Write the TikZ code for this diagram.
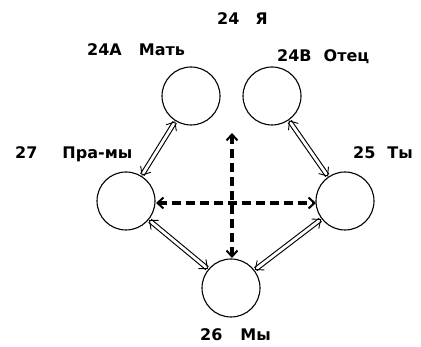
\documentclass[tikz,border=0pt]{standalone}
\usepackage{fontspec}
\setmainfont{DejaVu Sans}
\usetikzlibrary{arrows.meta}
\begin{document}
\begin{tikzpicture}[x=1pt,y=-1pt,
  circ/.style={circle,draw,line width=1.1pt,minimum size=58pt,inner sep=0pt},
  lbl/.style={anchor=base west,inner sep=0pt,font=\fontsize{16pt}{16pt}\selectfont\bfseries},
  dbl/.style={draw,double,double distance=2.8pt,line width=1.1pt,
    {Straight Barb[length=7pt,width=12pt,line width=0.9pt]}-{Straight Barb[length=7pt,width=12pt,line width=0.9pt]},shorten <=0.3pt,shorten >=0.3pt},
  dsh/.style={draw,line width=3.2pt,dash pattern=on 9pt off 5pt,
    {Straight Barb[length=6pt,width=11pt,line width=2pt]}-{Straight Barb[length=6pt,width=11pt,line width=2pt]}}]
\useasboundingbox (0,0) rectangle (421,347);
\node[circ] (mat) at (191,96) {};
\node[circ] (otec) at (272,96) {};
\node[circ] (pra) at (126,201) {};
\node[circ] (ty) at (345,201) {};
\node[circ] (my) at (231,288) {};
\node[lbl] (lya) at (217,25) {24\hspace{16pt}Я};
\node[lbl] (lmat) at (87,56) {24A\hspace{17pt}Мать};
\node[lbl] (lotec) at (277,62) {24B\hspace{12pt}Отец};
\node[lbl] (lpra) at (15,159) {27\hspace{25pt}Пра-мы};
\node[lbl] (lty) at (353,159) {25\hspace{12pt}Ты};
\node[lbl] (lmy) at (200,341) {26\hspace{18pt}Мы};
\path[dbl] (mat) -- (pra);
\path[dbl] (otec) -- (ty);
\path[dbl] (pra) -- (my);
\path[dbl] (ty) -- (my);
\coordinate (vt) at (232,133);
\coordinate (vb) at (232,258);
\coordinate (hl) at (156,203);
\coordinate (hr) at (316,203);
\path[dsh] (vt) -- (vb);
\path[dsh] (hl) -- (hr);
\end{tikzpicture}
\end{document}
